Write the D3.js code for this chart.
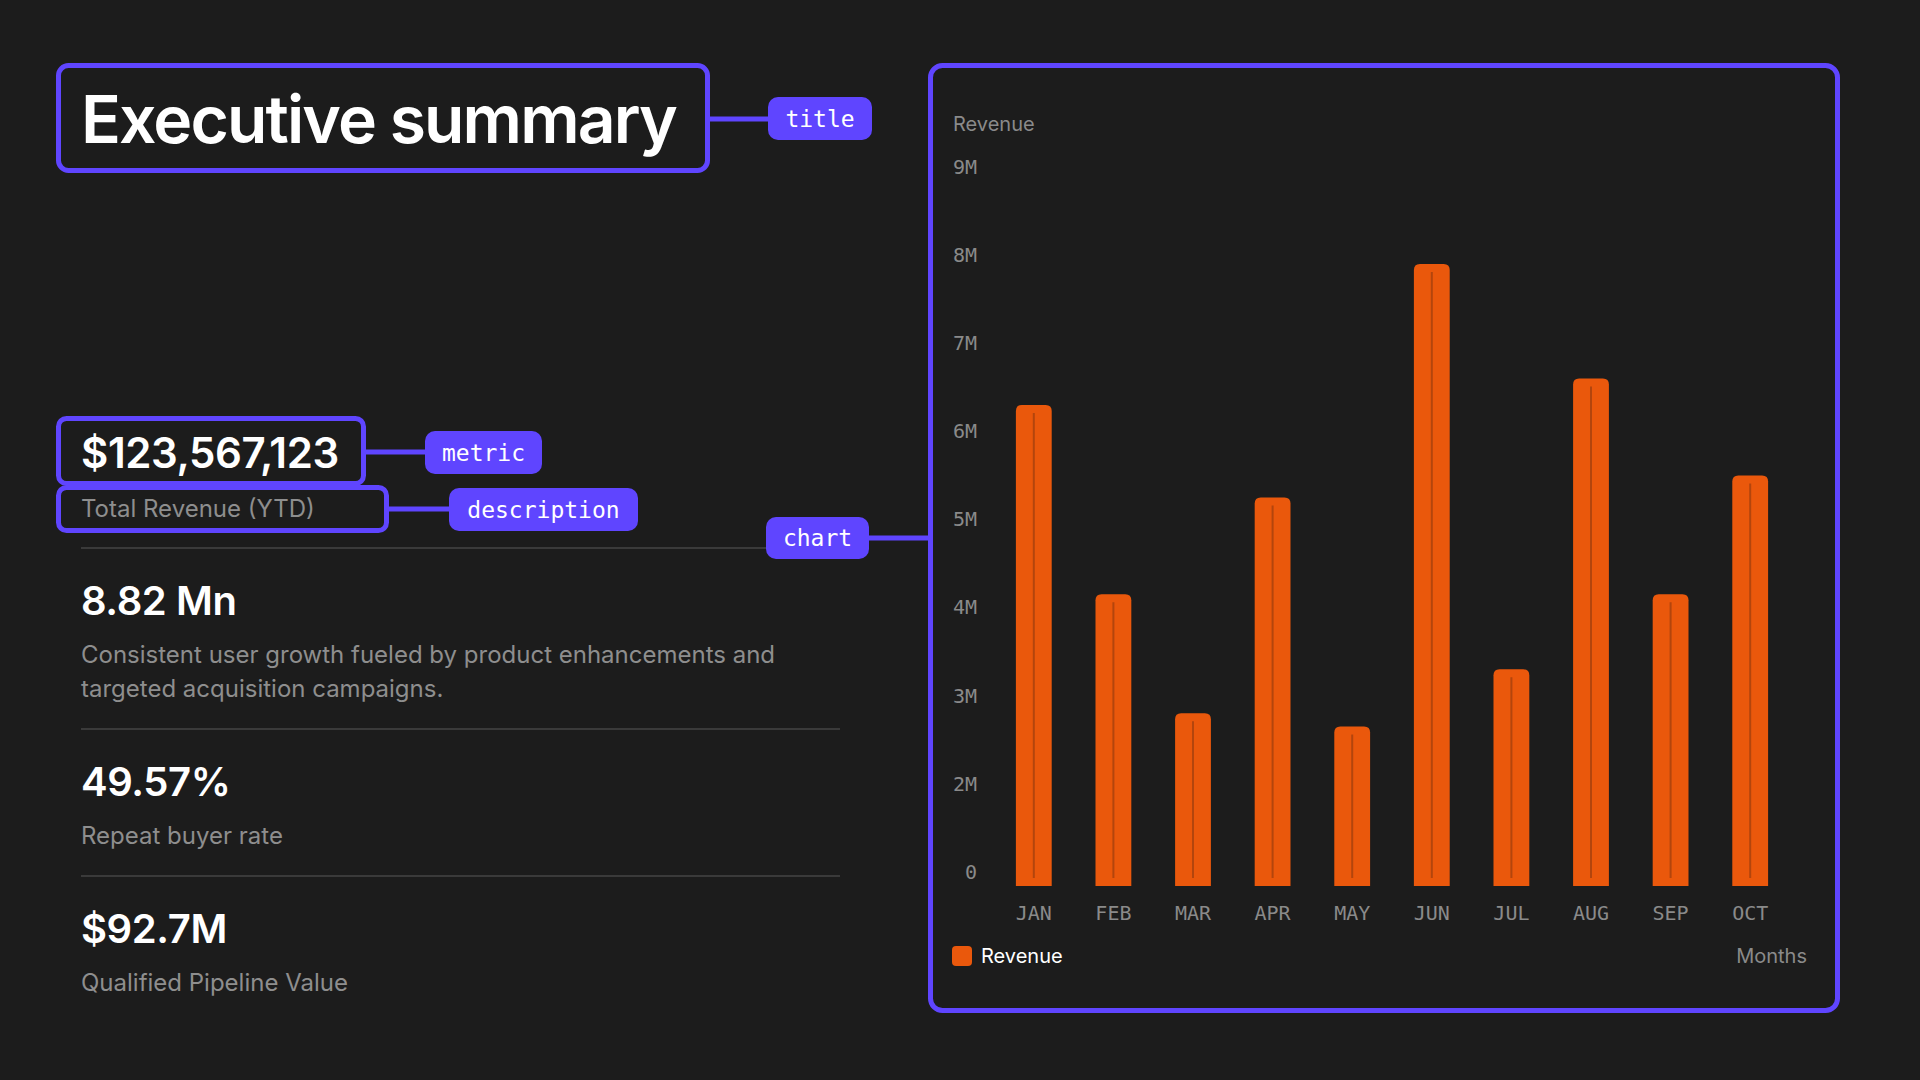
<!DOCTYPE html>
<html>
<head>
<meta charset="utf-8">
<script src="https://cdn.jsdelivr.net/npm/d3@7"></script>
<style>
  html, body { margin: 0; padding: 0; background: #1c1c1c; }
  svg { display: block; }
</style>
</head>
<body>
<div id="root"></div>
<script>
// chart data
const months = ['JAN', 'FEB', 'MAR', 'APR', 'MAY', 'JUN', 'JUL', 'AUG', 'SEP', 'OCT'];
const revenue = [6.3e6, 4.15e6, 2.8e6, 5.25e6, 2.65e6, 7.9e6, 3.3e6, 6.6e6, 4.15e6, 5.5e6];
const yTickValues = [1e6, 2e6, 3e6, 4e6, 5e6, 6e6, 7e6, 8e6, 9e6];
const yTickLabels = ['0', '2M', '3M', '4M', '5M', '6M', '7M', '8M', '9M'];

// left panel text
const kpiValues = ['8.82 Mn', '49.57%', '$92.7M'];
const kpiNotes = [
  ['Consistent user growth fueled by product enhancements and', 'targeted acquisition campaigns.'],
  ['Repeat buyer rate'],
  ['Qualified Pipeline Value'],
];

const W = 1920;
const H = 1080;
const purple = '#5f45ff';
const orange = '#ea580c';
const sans = 'Inter, "Noto Sans", sans-serif';
const mono = '"DejaVu Sans Mono", "Liberation Mono", monospace';

const svg = d3.select('#root').append('svg').attr('width', W).attr('height', H);
svg.append('rect').attr('width', W).attr('height', H).attr('fill', '#1c1c1c');

// ---- left side ----
const left = svg.append('g');

// connectors go first so boxes sit on top
const connectors = [
  { x1: 708, x2: 770, y: 119 },
  { x1: 364, x2: 427, y: 452 },
  { x1: 387, x2: 451, y: 509 },
  { x1: 867, x2: 930, y: 538 },
];
left.selectAll('.conn')
  .data(connectors)
  .enter()
  .append('line')
  .attr('x1', (d) => d.x1)
  .attr('x2', (d) => d.x2)
  .attr('y1', (d) => d.y)
  .attr('y2', (d) => d.y)
  .attr('stroke', purple)
  .attr('stroke-width', 5);

// separators
left.selectAll('.sep')
  .data([548, 729, 876])
  .enter()
  .append('line')
  .attr('x1', 81)
  .attr('x2', 840)
  .attr('y1', (d) => d)
  .attr('y2', (d) => d)
  .attr('stroke', '#3a3a3a')
  .attr('stroke-width', 2);

// title
left.append('rect')
  .attr('x', 58.5).attr('y', 65.5).attr('width', 649).attr('height', 105)
  .attr('rx', 10).attr('fill', 'none').attr('stroke', purple).attr('stroke-width', 5);
left.append('text')
  .attr('x', 81).attr('y', 143)
  .attr('fill', '#fff').attr('font-family', sans).attr('font-size', 66).attr('font-weight', 600)
  .attr('letter-spacing', -1.9)
  .text('Executive summary');

// metric + description
left.append('rect')
  .attr('x', 58.5).attr('y', 418.5).attr('width', 305).attr('height', 65)
  .attr('rx', 8).attr('fill', 'none').attr('stroke', purple).attr('stroke-width', 5);
left.append('rect')
  .attr('x', 58.5).attr('y', 487.5).attr('width', 328).attr('height', 43)
  .attr('rx', 8).attr('fill', 'none').attr('stroke', purple).attr('stroke-width', 5);
left.append('text')
  .attr('x', 81).attr('y', 468)
  .attr('fill', '#fff').attr('font-family', sans).attr('font-size', 42).attr('font-weight', 600)
  .attr('letter-spacing', -0.4)
  .text('$123,567,123');
left.append('text')
  .attr('x', 81).attr('y', 517)
  .attr('fill', '#8e8e8e').attr('font-family', sans).attr('font-size', 24)
  .text('Total Revenue (YTD)');

// kpi blocks
const blockTop = [548, 729, 876];
kpiValues.forEach((v, i) => {
  left.append('text')
    .attr('x', 81).attr('y', blockTop[i] + 67)
    .attr('fill', '#fff').attr('font-family', sans).attr('font-size', 40).attr('font-weight', 600)
    .attr('letter-spacing', -0.4)
    .text(v);
  const t = left.append('text')
    .attr('fill', '#8e8e8e').attr('font-family', sans).attr('font-size', 24);
  kpiNotes[i].forEach((line, j) => {
    t.append('tspan').attr('x', 81).attr('y', blockTop[i] + 115 + j * 34).text(line);
  });
});

// tag pills
const pills = [
  { label: 'title', x: 768, y: 97, w: 104, h: 43 },
  { label: 'metric', x: 425, y: 431, w: 117, h: 43 },
  { label: 'description', x: 449, y: 488, w: 189, h: 43 },
  { label: 'chart', x: 766, y: 517, w: 103, h: 42 },
];
const pill = left.selectAll('.pill').data(pills).enter().append('g')
  .attr('transform', (d) => `translate(${d.x},${d.y})`);
pill.append('rect')
  .attr('width', (d) => d.w).attr('height', (d) => d.h).attr('rx', 10).attr('fill', purple);
pill.append('text')
  .attr('x', (d) => d.w / 2).attr('y', (d) => d.h / 2).attr('dy', '0.35em')
  .attr('text-anchor', 'middle').attr('fill', '#fff')
  .attr('font-family', mono).attr('font-size', 23)
  .text((d) => d.label);

// ---- chart panel ----
svg.append('rect')
  .attr('x', 930.5).attr('y', 65.5).attr('width', 907).attr('height', 945)
  .attr('rx', 12).attr('fill', 'none').attr('stroke', purple).attr('stroke-width', 5);

const plot = { left: 994, right: 1790, top: 167, bottom: 886 };

const xScale = d3.scaleBand()
  .domain(months)
  .range([plot.left, plot.right])
  .paddingInner(0.55)
  .paddingOuter(0.275);
const yScale = d3.scaleLinear()
  .domain([0.84e6, 9e6])
  .range([plot.bottom, plot.top]);

const chart = svg.append('g');

const r = 6;
const barPath = (d, i) => {
  const x0 = xScale(months[i]);
  const x1 = x0 + xScale.bandwidth();
  const y0 = yScale(d);
  const y1 = plot.bottom;
  return `M${x0},${y1}V${y0 + r}Q${x0},${y0} ${x0 + r},${y0}H${x1 - r}Q${x1},${y0} ${x1},${y0 + r}V${y1}Z`;
};

chart.selectAll('.bar')
  .data(revenue)
  .enter()
  .append('path')
  .classed('bar', true)
  .attr('d', barPath)
  .attr('fill', orange);

chart.selectAll('.bar-line')
  .data(revenue)
  .enter()
  .append('line')
  .classed('bar-line', true)
  .attr('x1', (d, i) => xScale(months[i]) + xScale.bandwidth() / 2)
  .attr('x2', (d, i) => xScale(months[i]) + xScale.bandwidth() / 2)
  .attr('y1', (d) => yScale(d) + 8)
  .attr('y2', plot.bottom - 8)
  .attr('stroke', '#b3450d')
  .attr('stroke-width', 2);

// y axis
const yAxis = d3.axisLeft(yScale)
  .tickValues(yTickValues)
  .tickFormat((d, i) => yTickLabels[i])
  .tickSize(0)
  .tickPadding(0);
const yg = chart.append('g').attr('transform', 'translate(977,0)').call(yAxis);
yg.select('.domain').remove();
yg.selectAll('text').attr('fill', '#8a8a8a').attr('font-family', mono).attr('font-size', 20);

// x axis
const xAxis = d3.axisBottom(xScale).tickSize(0).tickPadding(0);
const xg = chart.append('g').attr('transform', 'translate(0,906)').call(xAxis);
xg.select('.domain').remove();
xg.selectAll('text').attr('fill', '#8a8a8a').attr('font-family', mono).attr('font-size', 20);

// axis titles
chart.append('text')
  .attr('x', 953).attr('y', 131)
  .attr('fill', '#8a8a8a').attr('font-family', sans).attr('font-size', 20)
  .text('Revenue');
chart.append('text')
  .attr('x', 1807).attr('y', 963).attr('text-anchor', 'end')
  .attr('fill', '#8a8a8a').attr('font-family', sans).attr('font-size', 20)
  .text('Months');

// legend
chart.append('rect')
  .attr('x', 952).attr('y', 946).attr('width', 20).attr('height', 20).attr('rx', 4)
  .attr('fill', orange);
chart.append('text')
  .attr('x', 981).attr('y', 963)
  .attr('fill', '#fff').attr('font-family', sans).attr('font-size', 20)
  .text('Revenue');
</script>
</body>
</html>
